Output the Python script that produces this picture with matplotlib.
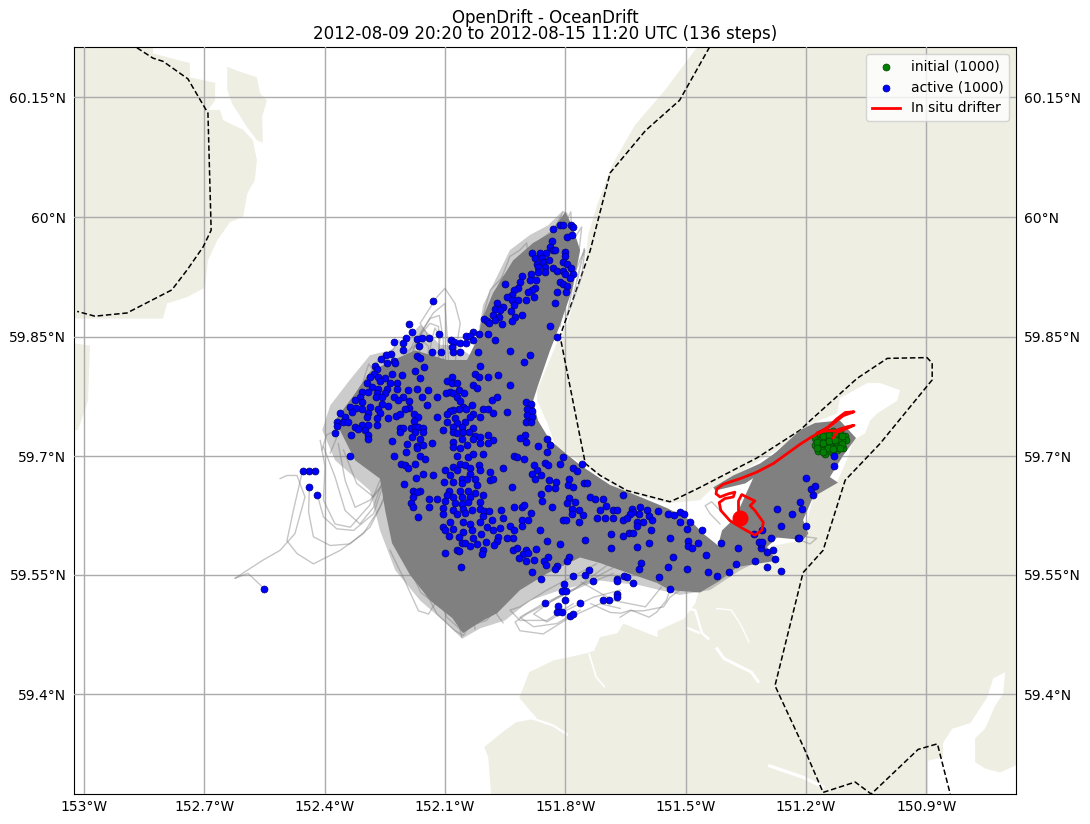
import numpy as np
import matplotlib
matplotlib.use("Agg")
import matplotlib.pyplot as plt

TITLE = "OpenDrift - OceanDrift\n2012-08-09 20:20 to 2012-08-15 11:20 UTC (136 steps)"
LON_TICKS = [-153.0, -152.7, -152.4, -152.1, -151.8, -151.5, -151.2, -150.9]
LON_LABELS = ["153°W", "152.7°W", "152.4°W", "152.1°W", "151.8°W", "151.5°W", "151.2°W", "150.9°W"]
LAT_TICKS = [59.4, 59.55, 59.699, 59.849, 59.999, 60.15]
LAT_LABELS = ["59.4°N", "59.55°N", "59.7°N", "59.85°N", "60°N", "60.15°N"]

sea = [(-152.828,60.213),(-151.471,60.213),(-151.551,60.159),(-151.626,60.115),(-151.683,60.065),(-151.721,60.014),
(-151.743,59.977),(-151.750,59.939),(-151.795,59.866),(-151.818,59.845),(-151.870,59.782),(-151.870,59.769),(-151.845,59.741),
(-151.825,59.713),(-151.746,59.685),(-151.663,59.656),(-151.546,59.640),(-151.464,59.644),(-151.431,59.660),(-151.356,59.681),
(-151.272,59.707),(-151.182,59.741),(-151.122,59.753),(-151.115,59.772),(-151.047,59.791),(-151.015,59.791),(-150.965,59.782),
(-150.972,59.769),(-151.022,59.753),(-151.040,59.744),(-151.052,59.728),(-151.082,59.719),(-151.095,59.698),(-151.120,59.669),(-151.182,59.648),
(-151.207,59.594),(-151.297,59.585),(-151.272,59.568),(-151.371,59.560),(-151.414,59.543),(-151.464,59.535),(-151.476,59.514),
(-151.504,59.495),(-151.570,59.480),(-151.570,59.472),(-151.655,59.489),(-151.670,59.477),(-151.713,59.472),(-151.728,59.455),(-151.745,59.452),
(-151.798,59.446),(-151.828,59.443),(-151.890,59.428),(-151.905,59.408),(-151.915,59.396),(-151.888,59.380),(-151.870,59.370),(-151.923,59.365),(-151.958,59.352),(-152.002,59.334),(-151.992,59.321),(-151.985,59.275),
(-153.025,59.275),(-153.025,59.732),(-153.015,59.732),(-152.990,59.769),(-152.985,59.838),(-153.025,59.841),(-153.025,59.872),
(-152.960,59.872),(-152.880,59.872),(-152.803,59.872),(-152.793,59.891),(-152.743,59.899),(-152.698,59.911),(-152.691,59.945),
(-152.668,59.970),(-152.636,59.993),(-152.603,60.000),(-152.593,60.029),(-152.574,60.046),(-152.569,60.071),(-152.579,60.096),
(-152.603,60.109),(-152.653,60.121),(-152.661,60.134),(-152.691,60.134),(-152.673,60.146),(-152.673,60.168),(-152.736,60.175),
(-152.736,60.193),(-152.761,60.196),(-152.828,60.205)]
island = [(-152.643,60.188),(-152.606,60.181),(-152.569,60.175),(-152.561,60.155),(-152.544,60.146),(-152.556,60.125),
(-152.554,60.093),(-152.569,60.096),(-152.593,60.112),(-152.631,60.142),(-152.643,60.159)]
water_east = [(-150.895,59.275),(-150.895,59.317),(-150.858,59.321),(-150.858,59.339),(-150.835,59.357),(-150.790,59.364),(-150.765,59.383),
(-150.748,59.396),(-150.733,59.420),(-150.703,59.428),(-150.708,59.401),(-150.728,59.386),(-150.753,59.357),(-150.778,59.345),(-150.778,59.315),
(-150.753,59.307),(-150.716,59.302),(-150.676,59.311),(-150.676,59.275)]
channels = [
 ([(-151.424,59.508),(-151.386,59.506),(-151.364,59.489),(-151.341,59.465)], 1.0),
 ([(-151.424,59.459),(-151.404,59.445),(-151.336,59.428),(-151.317,59.415)], 2.2),
 ([(-151.499,59.508),(-151.476,59.506),(-151.459,59.477),(-151.441,59.469)], 1.8),
 ([(-151.498,59.484),(-151.464,59.477)], 1.8),
 ([(-151.294,59.311),(-151.207,59.296),(-151.154,59.283)], 2.4),
 ([(-151.741,59.452),(-151.723,59.422),(-151.701,59.409)], 1.2),
 ([(-151.888,59.371),(-151.830,59.361),(-151.793,59.349)], 1.6),
]

boundary_west = [(-152.868,60.212),(-152.828,60.199),(-152.803,60.195),(-152.741,60.173),(-152.691,60.130),(-152.683,59.983),(-152.703,59.962),
(-152.743,59.933),(-152.781,59.908),(-152.893,59.879),(-152.973,59.875),(-153.017,59.881)]
boundary_east = [(-151.440,60.213),(-151.515,60.146),(-151.600,60.108),(-151.688,60.055),(-151.738,59.957),(-151.813,59.850),
(-151.750,59.690),(-151.713,59.675),(-151.646,59.656),(-151.539,59.642),(-151.521,59.646),(-151.464,59.660),(-151.322,59.697),(-151.214,59.732),
(-151.189,59.744),(-151.072,59.797),(-150.997,59.822),(-150.898,59.823),(-150.885,59.816),(-150.885,59.795),(-151.015,59.715),(-151.102,59.669),
(-151.157,59.581),(-151.207,59.553),(-151.277,59.411),(-151.205,59.333),(-151.157,59.277),(-151.077,59.290),(-151.037,59.275),
(-150.920,59.331),(-150.872,59.338),(-150.840,59.275)]

plume = [(-151.800,60.006),(-151.783,59.989),(-151.763,59.958),(-151.783,59.908),(-151.813,59.864),(-151.838,59.832),(-151.868,59.788),
(-151.880,59.769),(-151.868,59.744),(-151.838,59.719),(-151.763,59.688),(-151.688,59.663),(-151.613,59.648),(-151.546,59.634),
(-151.489,59.619),(-151.456,59.602),(-151.419,59.587),(-151.409,59.606),(-151.376,59.622),(-151.351,59.650),(-151.322,59.682),
(-151.264,59.709),(-151.214,59.732),(-151.177,59.741),(-151.115,59.744),(-151.075,59.722),(-151.107,59.700),(-151.140,59.673),
(-151.120,59.666),(-151.182,59.648),(-151.207,59.619),(-151.194,59.602),(-151.207,59.594),(-151.272,59.597),(-151.297,59.585),
(-151.272,59.568),(-151.371,59.560),(-151.414,59.543),(-151.464,59.528),(-151.539,59.531),(-151.571,59.540),(-151.646,59.553),
(-151.713,59.565),(-151.763,59.572),(-151.845,59.552),(-151.913,59.531),(-151.970,59.502),(-152.012,59.491),(-152.055,59.477),
(-152.082,59.496),(-152.137,59.518),(-152.187,59.550),(-152.232,59.590),(-152.249,59.631),(-152.262,59.671),(-152.324,59.694),
(-152.349,59.719),(-152.374,59.744),(-152.324,59.778),(-152.287,59.805),(-152.229,59.820),(-152.174,59.832),(-152.095,59.820),
(-152.045,59.820),(-152.020,59.845),(-152.005,59.874),(-151.980,59.904),(-151.930,59.945),(-151.880,59.967),(-151.838,59.979)]
plume_north_strip = [(-151.431,59.660),(-151.381,59.675),(-151.314,59.690),(-151.257,59.710),(-151.182,59.738),(-151.289,59.694),
(-151.327,59.673),(-151.351,59.665),(-151.426,59.656)]
plume_fringe = [(-151.805,60.008),(-151.843,59.989),(-151.888,59.977),(-151.938,59.958),(-151.975,59.920),(-152.005,59.889),(-152.017,59.851),
(-152.037,59.826),(-152.075,59.839),(-152.112,59.839),(-152.162,59.864),(-152.199,59.845),(-152.237,59.832),(-152.287,59.826),(-152.337,59.795),
(-152.386,59.763),(-152.406,59.732),(-152.374,59.694),(-152.287,59.656),(-152.262,59.606),(-152.224,59.556),(-152.162,59.518),(-152.100,59.491),
(-152.057,59.470),(-152.012,59.483),(-151.950,59.493),(-151.888,59.518),(-151.813,59.531),(-151.713,59.543),(-151.613,59.537),(-151.514,59.525),
(-151.439,59.531),(-151.364,59.556),(-151.314,59.568),(-151.464,59.590),(-151.700,59.600),(-151.900,59.750),(-151.860,59.880)]

trajectories = [
 [(-152.551,59.533),(-152.591,59.552),(-152.623,59.546)],
 [(-152.623,59.546),(-152.556,59.568),(-152.511,59.581),(-152.474,59.602),(-152.449,59.648),(-152.469,59.675),(-152.494,59.675),(-152.511,59.671)],
 [(-152.455,59.681),(-152.478,59.631),(-152.494,59.593),(-152.469,59.577),(-152.428,59.564),(-152.361,59.581),(-152.303,59.602),(-152.262,59.635),(-152.237,59.669)],
 [(-152.438,59.661),(-152.440,59.629),(-152.428,59.598),(-152.386,59.587),(-152.337,59.589),(-152.287,59.610),(-152.245,59.652)],
 [(-152.418,59.650),(-152.403,59.623),(-152.370,59.608),(-152.328,59.606),(-152.278,59.627),(-152.253,59.665)],
 [(-152.411,59.719),(-152.399,59.686),(-152.403,59.644),(-152.374,59.614),(-152.336,59.610),(-152.287,59.638),(-152.262,59.669)],
 [(-152.403,59.711),(-152.374,59.673),(-152.349,59.631),(-152.312,59.614),(-152.278,59.635),(-152.253,59.673)],
 [(-152.366,59.715),(-152.349,59.669),(-152.324,59.635),(-152.287,59.644),(-152.245,59.671)],
 [(-152.353,59.707),(-152.320,59.665),(-152.278,59.648),(-152.241,59.673)],
 [(-152.179,59.811),(-152.145,59.853),(-152.162,59.866),(-152.120,59.899),(-152.100,59.910),(-152.075,59.891),(-152.062,59.866),(-152.071,59.837),(-152.075,59.811)],
 [(-152.195,59.811),(-152.162,59.853),(-152.129,59.879),(-152.100,59.891),(-152.095,59.853),(-152.091,59.820)],
 [(-152.204,59.803),(-152.170,59.845),(-152.137,59.872),(-152.114,59.876),(-152.104,59.845),(-152.104,59.811)],
 [(-152.212,59.803),(-152.179,59.841),(-152.137,59.866),(-152.116,59.862),(-152.114,59.811)],
 [(-152.145,59.811),(-152.133,59.845),(-152.125,59.860),(-152.112,59.849),(-152.120,59.803)],
 [(-152.220,59.799),(-152.191,59.832),(-152.158,59.845),(-152.141,59.837),(-152.145,59.803)],
 [(-152.407,59.707),(-152.395,59.726),(-152.378,59.730),(-152.328,59.765),(-152.303,59.786),(-152.274,59.816)],
 [(-152.345,59.719),(-152.316,59.774),(-152.262,59.824),(-152.224,59.811),(-152.237,59.770)],
 [(-152.386,59.703),(-152.345,59.753),(-152.312,59.786),(-152.291,59.799),(-152.270,59.770)],
 [(-151.929,59.895),(-151.863,59.971),(-151.830,59.983),(-151.805,60.006),(-151.796,60.004),(-151.788,59.979),(-151.796,59.916),(-151.813,59.862)],
 [(-151.879,59.895),(-151.846,59.975),(-151.796,59.996),(-151.786,60.006),(-151.784,59.975),(-151.805,59.895)],
 [(-151.846,59.862),(-151.780,59.971),(-151.759,59.987),(-151.767,59.950),(-151.796,59.874)],
 [(-151.821,59.870),(-151.763,59.946),(-151.751,59.958),(-151.759,59.925),(-151.788,59.883)],
 [(-151.996,59.874),(-151.938,59.950),(-151.913,59.958),(-151.896,59.967),(-151.888,59.899)],
 [(-152.012,59.862),(-151.987,59.908),(-151.954,59.925),(-151.929,59.929),(-151.913,59.895)],
 [(-151.680,59.568),(-151.780,59.531),(-151.896,59.501),(-151.925,59.491),(-151.913,59.480),(-151.855,59.476),(-151.788,59.497),(-151.713,59.514),(-151.663,59.508)],
 [(-151.722,59.564),(-151.846,59.531),(-151.913,59.510),(-151.938,59.506),(-151.913,59.493),(-151.846,59.493),(-151.780,59.514)],
 [(-151.680,59.552),(-151.763,59.535),(-151.855,59.514),(-151.913,59.497),(-151.879,59.485),(-151.821,59.489),(-151.763,59.506)],
 [(-151.663,59.564),(-151.738,59.543),(-151.821,59.522),(-151.879,59.501),(-151.846,59.491),(-151.796,59.506),(-151.730,59.522),(-151.663,59.531)],
 [(-151.736,59.514),(-151.688,59.503),(-151.661,59.502),(-151.636,59.506),(-151.591,59.497),(-151.573,59.503),(-151.548,59.518),(-151.539,59.531)],
 [(-151.760,59.541),(-151.680,59.518),(-151.600,59.510),(-151.560,59.535)],
 [(-152.237,59.581),(-152.204,59.547),(-152.166,59.505),(-152.141,59.501),(-152.120,59.518),(-152.104,59.552)],
 [(-152.179,59.560),(-152.120,59.501),(-152.075,59.480),(-152.054,59.474),(-152.021,59.501),(-151.979,59.531)],
 [(-152.145,59.556),(-152.095,59.497),(-152.058,59.480),(-152.046,59.485),(-151.996,59.493),(-151.946,59.522)],
 [(-151.414,59.614),(-151.439,59.627),(-151.451,59.637),(-151.435,59.642),(-151.414,59.631)],
 [(-151.214,59.602),(-151.198,59.598),(-151.173,59.596),(-151.190,59.589),(-151.210,59.593)],
 [(-151.514,59.531),(-151.539,59.522),(-151.555,59.510),(-151.605,59.505),(-151.638,59.505),(-151.663,59.497)],
 [(-152.137,59.581),(-152.117,59.525),(-152.100,59.504)],
 [(-152.095,59.581),(-152.075,59.510),(-152.058,59.472)],
 [(-152.045,59.570),(-152.030,59.500),(-152.025,59.482)],
 [(-151.990,59.560),(-151.970,59.500),(-151.955,59.490)],
 [(-152.210,59.640),(-152.200,59.570),(-152.160,59.528),(-152.140,59.520)],
 [(-152.330,59.745),(-152.300,59.800),(-152.290,59.815),(-152.270,59.800)],
 [(-152.260,59.790),(-152.235,59.828),(-152.215,59.845),(-152.200,59.830)],
 [(-151.990,59.840),(-151.975,59.880),(-151.955,59.905),(-151.945,59.890)],
 [(-151.960,59.880),(-151.935,59.930),(-151.915,59.945),(-151.905,59.900)],
 [(-151.780,59.900),(-151.760,59.945),(-151.752,59.960),(-151.770,59.920)],
]

initial = [(-151.177,59.722),(-151.165,59.727),(-151.148,59.729),(-151.132,59.731),(-151.115,59.731),(-151.103,59.725),(-151.100,59.719),
(-151.107,59.710),(-151.123,59.707),(-151.136,59.704),(-151.152,59.702),(-151.169,59.706),(-151.177,59.713),(-151.165,59.719),(-151.150,59.722),
(-151.136,59.724),(-151.122,59.724),(-151.111,59.719),(-151.123,59.715),(-151.138,59.713),(-151.152,59.710),(-151.165,59.711),(-151.150,59.716),
(-151.136,59.718),(-151.119,59.719),(-151.127,59.710),(-151.144,59.707),(-151.161,59.707),(-151.173,59.717),(-151.111,59.714),
(-151.158,59.724),(-151.143,59.726),(-151.128,59.727),(-151.157,59.716),(-151.143,59.718),(-151.128,59.720),(-151.145,59.710),(-151.132,59.708),
(-151.158,59.704),(-151.116,59.710),(-151.171,59.710),(-151.110,59.724)]

active_north = [(-151.830,59.985),(-151.813,59.990),(-151.806,59.990),(-151.786,59.989),(-151.781,59.987),(-151.796,59.975),(-151.784,59.977),
(-151.834,59.969),(-151.838,59.962),(-151.830,59.958),(-151.825,59.958),(-151.884,59.954),(-151.863,59.954),(-151.848,59.954),(-151.800,59.956),
(-151.800,59.951),(-151.875,59.948),(-151.859,59.948),(-151.871,59.941),(-151.855,59.943),(-151.840,59.945),(-151.805,59.943),(-151.796,59.941),
(-151.786,59.936),(-151.867,59.937),(-151.850,59.937),(-151.831,59.935),(-151.821,59.932),(-151.805,59.932),(-151.800,59.928),(-151.781,59.928),
(-151.867,59.931),(-151.850,59.931),(-151.788,59.923),(-151.813,59.918),(-151.805,59.916),(-151.796,59.913),(-151.886,59.928),(-151.909,59.925),
(-151.888,59.920),(-151.873,59.920),(-151.875,59.911),(-151.884,59.908),(-151.913,59.918),(-151.919,59.911),(-151.927,59.908),(-151.949,59.915),
(-151.932,59.902),(-151.894,59.905),(-151.879,59.899),(-151.820,59.905),(-151.799,59.905),(-151.899,59.895),(-151.946,59.899),(-151.933,59.895),
(-151.919,59.895),(-151.971,59.892),(-151.825,59.892),(-151.929,59.889),(-151.956,59.886),(-151.975,59.884),(-151.963,59.883),(-151.935,59.881),
(-151.979,59.876),(-151.964,59.874),(-151.925,59.874),(-151.907,59.876),(-152.002,59.872),(-151.996,59.869),(-151.975,59.870),(-151.989,59.867),
(-151.933,59.869),(-151.958,59.865),(-151.837,59.863),(-152.029,59.855),(-152.015,59.853),(-151.992,59.853),(-152.048,59.850),(-152.037,59.850),
(-152.029,59.845),(-151.821,59.849),(-151.974,59.845),(-152.086,59.845),(-152.077,59.843),(-152.062,59.841),(-152.047,59.841),(-152.083,59.836),
(-152.081,59.830),(-152.062,59.830),(-152.017,59.830),(-151.939,59.831),(-151.889,59.826),(-151.904,59.817),(-152.012,59.813),(-152.026,59.802),
(-152.015,59.798),(-151.993,59.799),(-151.967,59.801),(-151.939,59.789),(-152.029,59.788),(-152.019,59.785)]

active_northwest = [(-152.129,59.894),(-152.189,59.865),(-152.181,59.855),(-152.198,59.848),(-152.170,59.846),(-152.158,59.848),(-152.139,59.848),
(-152.114,59.852),(-152.228,59.842),(-152.204,59.841),(-152.164,59.838),(-152.205,59.832),(-152.132,59.830),(-152.111,59.830),(-152.235,59.828),
(-152.248,59.826),(-152.260,59.821),(-152.169,59.825),(-152.162,59.822),(-152.228,59.819),(-152.224,59.816),(-152.245,59.816),(-152.151,59.811),
(-152.274,59.813),(-152.270,59.809),(-152.174,59.806),(-152.208,59.801),(-152.231,59.802),(-152.161,59.797),(-152.278,59.803),(-152.266,59.799),
(-152.249,59.797),(-152.287,59.799),(-152.262,59.793),(-152.237,59.791),(-152.220,59.791),(-152.295,59.791),(-152.282,59.786),(-152.266,59.784),
(-152.245,59.784),(-152.170,59.784),(-152.143,59.782),(-152.193,59.782),(-152.220,59.783),(-152.307,59.780),(-152.291,59.780),(-152.270,59.779),
(-152.249,59.778),(-152.204,59.774),(-152.158,59.774),(-152.121,59.773),(-152.312,59.774),(-152.272,59.773),(-152.258,59.774),(-152.228,59.773),
(-152.218,59.770),(-152.189,59.769),(-152.324,59.770),(-152.307,59.767),(-152.258,59.765),(-152.241,59.762),(-152.145,59.763),(-152.336,59.761),
(-152.322,59.760),(-152.287,59.761),(-152.266,59.759),(-152.189,59.760),(-152.199,59.758),(-152.361,59.753),(-152.349,59.749),(-152.332,59.755),
(-152.306,59.759),(-152.291,59.753),(-152.262,59.753),(-152.223,59.750),(-152.212,59.752),(-152.176,59.752),(-152.166,59.749),(-152.119,59.748),
(-152.368,59.742),(-152.353,59.742),(-152.341,59.742),(-152.295,59.749),(-152.270,59.747),(-152.243,59.747),(-152.177,59.744),(-152.370,59.737),
(-152.324,59.736),(-152.307,59.738),(-152.291,59.738),(-152.270,59.738),(-152.213,59.734),(-152.204,59.735),(-152.185,59.735),(-152.174,59.736),
(-152.166,59.736),(-152.318,59.733),(-152.299,59.732),(-152.154,59.735),(-152.213,59.730),(-152.374,59.728),(-152.334,59.726),(-152.293,59.726),
(-152.174,59.729),(-152.154,59.729),(-152.104,59.732),(-152.291,59.721),(-152.183,59.723),(-152.162,59.721),(-152.233,59.718),(-152.133,59.716),
(-152.194,59.714),(-152.170,59.712),(-152.154,59.713),(-152.169,59.709)]

active_central_north = [(-152.094,59.794),(-152.083,59.798),(-152.083,59.791),(-152.069,59.791),(-152.064,59.782),(-152.052,59.778),(-152.098,59.778),
(-152.087,59.780),(-152.081,59.778),(-152.071,59.773),(-152.062,59.768),(-152.032,59.764),(-151.982,59.770),(-151.971,59.773),(-152.056,59.761),
(-152.047,59.758),(-152.079,59.757),(-152.087,59.756),(-152.066,59.758),(-152.095,59.752),(-152.006,59.758),(-151.992,59.758),(-151.981,59.754),
(-151.946,59.755),(-151.899,59.767),(-151.886,59.765),(-151.896,59.758),(-151.884,59.756),(-151.896,59.751),(-151.884,59.749),(-151.898,59.742),
(-151.886,59.742),(-152.029,59.752),(-152.037,59.749),(-152.012,59.749),(-152.075,59.747),(-152.094,59.742),(-152.071,59.741),(-152.050,59.742),
(-152.079,59.736),(-152.058,59.736),(-152.029,59.735),(-152.081,59.730),(-152.071,59.728),(-152.054,59.730),(-152.041,59.730),(-152.079,59.717),
(-152.058,59.721),(-152.025,59.724),(-152.012,59.723),(-151.992,59.726),(-151.981,59.719),(-151.992,59.716),(-152.012,59.716),(-152.031,59.721),
(-151.900,59.726),(-151.913,59.722),(-151.899,59.717),(-151.845,59.721),(-151.869,59.712),(-151.838,59.713),(-152.079,59.711),(-152.062,59.710),(-152.046,59.713)]

active_far_west = [(-152.455,59.681),(-152.440,59.681),(-152.425,59.681),(-152.438,59.661),(-152.418,59.650),(-152.338,59.700),(-152.551,59.533)]

active_west = [(-152.228,59.699),(-152.197,59.704),(-152.162,59.699),(-152.149,59.696),(-152.210,59.689),(-152.199,59.688),(-152.191,59.684),
(-152.174,59.689),(-152.155,59.677),(-152.129,59.675),(-152.172,59.672),(-152.201,59.664),(-152.180,59.656),(-152.162,59.655),(-152.169,59.654),
(-152.180,59.648),(-152.185,59.641),(-152.180,59.636),(-152.139,59.645),(-152.120,59.645),(-152.141,59.636),(-152.166,59.623)]

active_central = [(-152.071,59.700),(-152.042,59.698),(-152.029,59.702),(-152.004,59.702),(-152.062,59.690),(-152.079,59.686),(-152.050,59.688),
(-152.014,59.688),(-152.037,59.684),(-152.100,59.682),(-152.071,59.682),(-152.037,59.677),(-152.012,59.682),(-151.987,59.679),(-152.087,59.675),
(-152.058,59.671),(-152.046,59.670),(-152.025,59.671),(-151.987,59.669),(-151.981,59.670),(-152.102,59.667),(-152.079,59.667),(-152.058,59.665),
(-152.021,59.663),(-152.091,59.656),(-152.062,59.656),(-152.042,59.656),(-152.025,59.653),(-152.095,59.650),(-152.079,59.648),(-152.058,59.648),
(-152.037,59.648),(-152.004,59.651),(-152.100,59.643),(-152.075,59.640),(-152.058,59.639),(-152.042,59.642),(-152.012,59.642),(-152.104,59.634),
(-152.079,59.632),(-152.054,59.633),(-152.033,59.631),(-152.012,59.633),(-152.002,59.630),(-151.989,59.630),(-152.106,59.626),(-152.071,59.626),
(-152.050,59.628),(-152.004,59.624),(-151.983,59.619),(-152.054,59.617),(-152.012,59.617),(-152.037,59.614),(-152.087,59.616),(-152.106,59.610),
(-152.079,59.608),(-152.100,59.606),(-152.033,59.606),(-151.996,59.610),(-151.979,59.607),(-151.963,59.609),(-151.938,59.611),(-151.929,59.606),
(-152.091,59.599),(-152.054,59.604),(-152.066,59.598),(-152.029,59.597),(-152.010,59.601),(-151.967,59.598),(-151.946,59.597),(-151.931,59.596),
(-151.971,59.593),(-152.058,59.590),(-152.050,59.590),(-152.037,59.587),(-152.021,59.589),(-151.997,59.591),(-151.977,59.588),(-152.071,59.582),
(-152.064,59.580),(-152.004,59.582),(-152.007,59.576),(-152.099,59.577),(-152.061,59.560)]

active_south = [(-151.954,59.684),(-151.929,59.700),(-151.921,59.698),(-151.902,59.696),(-151.846,59.705),(-151.806,59.698),(-151.850,59.691),
(-151.842,59.688),(-151.813,59.689),(-151.879,59.688),(-151.871,59.682),(-151.884,59.677),(-151.861,59.676),(-151.780,59.684),(-151.770,59.680),
(-151.759,59.689),(-151.875,59.670),(-151.840,59.669),(-151.823,59.667),(-151.790,59.670),(-151.932,59.661),(-151.825,59.659),(-151.842,59.659),
(-151.792,59.663),(-151.780,59.661),(-151.753,59.665),(-151.745,59.665),(-151.861,59.652),(-151.859,59.643),(-151.790,59.647),(-151.776,59.642),
(-151.796,59.640),(-151.738,59.648),(-151.726,59.645),(-151.929,59.636),(-151.909,59.636),(-151.904,59.638),(-151.832,59.635),(-151.784,59.633),
(-151.755,59.625),(-151.961,59.632),(-151.886,59.628),(-151.784,59.626),(-151.765,59.631),(-151.954,59.622),(-151.909,59.619),(-151.894,59.619),
(-151.805,59.619),(-151.798,59.619),(-151.722,59.621),(-151.765,59.616),(-151.909,59.611),(-151.864,59.606),(-151.845,59.593),(-151.750,59.594),
(-151.812,59.589),(-151.931,59.582),(-151.921,59.584),(-151.898,59.582),(-151.874,59.583),(-151.906,59.576),(-151.894,59.578),(-151.916,59.571),
(-151.899,59.567),(-151.877,59.569),(-151.791,59.573),(-151.795,59.568),(-151.844,59.572),(-151.853,59.568),(-151.848,59.562),(-151.821,59.561),
(-151.825,59.557),(-151.884,59.554),(-151.861,59.545),(-151.780,59.549),(-151.752,59.550),(-151.740,59.556),(-151.732,59.543),(-151.804,59.539),
(-151.809,59.530),(-151.799,59.530),(-151.850,59.515),(-151.800,59.518),(-151.762,59.515),(-151.817,59.511),(-151.820,59.503),(-151.809,59.504),
(-151.788,59.499),(-151.781,59.501)]

active_east = [(-151.655,59.650),(-151.706,59.645),(-151.698,59.637),(-151.713,59.632),(-151.681,59.631),(-151.670,59.631),(-151.634,59.633),
(-151.613,59.635),(-151.630,59.629),(-151.597,59.631),(-151.568,59.630),(-151.543,59.627),(-151.530,59.625),(-151.515,59.629),(-151.505,59.627),
(-151.638,59.627),(-151.617,59.627),(-151.592,59.624),(-151.584,59.619),(-151.700,59.622),(-151.680,59.622),(-151.655,59.619),(-151.647,59.622),
(-151.605,59.616),(-151.622,59.616),(-151.622,59.611),(-151.514,59.617),(-151.490,59.617),(-151.586,59.607),(-151.497,59.608),(-151.460,59.606),
(-151.642,59.603),(-151.630,59.603),(-151.656,59.599),(-151.685,59.602),(-151.538,59.597),(-151.495,59.593),(-151.470,59.590),(-151.590,59.590),
(-151.495,59.587),(-151.484,59.584),(-151.622,59.585),(-151.686,59.584),(-151.532,59.572),(-151.449,59.575),(-151.411,59.590),(-151.368,59.584),
(-151.610,59.565),(-151.615,59.558),(-151.543,59.560),(-151.497,59.558),(-151.445,59.554),(-151.422,59.549),(-151.391,59.554),(-151.373,59.564),
(-151.565,59.547),(-151.653,59.549),(-151.647,59.547),(-151.671,59.545),(-151.671,59.542),(-151.632,59.540),(-151.540,59.532),(-151.671,59.526),
(-151.670,59.522),(-151.690,59.519),(-151.705,59.518),(-151.326,59.567),(-151.296,59.560),(-151.263,59.555),(-151.278,59.570),(-151.281,59.582),
(-151.296,59.579),(-151.312,59.584),(-151.311,59.589),(-151.316,59.592),(-151.309,59.591),(-151.286,59.596),(-151.329,59.601),(-151.309,59.607),
(-151.263,59.612),(-151.234,59.626),(-151.273,59.633),(-151.214,59.642),(-151.209,59.633),(-151.181,59.651),(-151.186,59.658),(-151.176,59.662),
(-151.199,59.672),(-151.129,59.687),(-151.129,59.699),(-151.199,59.612),(-151.220,59.596),(-151.216,59.596)]

drifter = [(-151.132,59.722),(-151.123,59.729),(-151.098,59.734),(-151.080,59.738),(-151.098,59.736),(-151.127,59.731),(-151.152,59.731),(-151.173,59.728),
(-151.148,59.734),(-151.127,59.742),(-151.107,59.750),(-151.080,59.755),(-151.102,59.754),(-151.123,59.746),(-151.144,59.736),(-151.173,59.727),
(-151.190,59.722),(-151.215,59.714),(-151.248,59.702),(-151.281,59.690),(-151.323,59.679),(-151.364,59.671),(-151.406,59.664),(-151.422,59.658),
(-151.424,59.652),(-151.414,59.648),(-151.393,59.652),(-151.377,59.654),(-151.381,59.648),(-151.402,59.646),(-151.416,59.641),(-151.412,59.631),
(-151.389,59.618),(-151.356,59.608),(-151.327,59.600),(-151.310,59.606),(-151.306,59.616),(-151.327,59.631),(-151.339,59.637),(-151.327,59.643),
(-151.348,59.648),(-151.360,59.651),(-151.368,59.643),(-151.368,59.631),(-151.364,59.621)]

LAND = "#eeeee3"
W, H = 1090, 824
fig = plt.figure(figsize=(W / 100, H / 100), dpi=100)
ax = fig.add_axes([74 / W, (H - 794) / H, (1016 - 74) / W, (794 - 47) / H])
ax.set_xlim(-153.025, -150.676)
ax.set_ylim(59.275, 60.213)
ax.set_facecolor(LAND)


def xy(pairs):
    a = np.array(pairs)
    return a[:, 0], a[:, 1]


ax.fill(*xy(sea), color="white", lw=0, zorder=1)
ax.fill(*xy(island), color=LAND, lw=0, zorder=1.1)
ax.fill(*xy(water_east), color="white", lw=0, zorder=1.1)
for line, width in channels:
    ax.plot(*xy(line), color="white", lw=width, zorder=1.1, solid_capstyle="butt")

ax.set_xticks(LON_TICKS, LON_LABELS)
ax.set_yticks(LAT_TICKS, LAT_LABELS)
ax.tick_params(axis="both", length=0, labelsize=10)
ax.tick_params(axis="y", left=False, right=False, labelleft=True, labelright=True, pad=5.5)
ax.tick_params(axis="x", pad=4)
ax.grid(True, color="#ababab", lw=1)
for g in ax.get_xgridlines() + ax.get_ygridlines():
    g.set_zorder(2)
ax.set_axisbelow(False)

for line in (boundary_west, boundary_east):
    ax.plot(*xy(line), color="black", lw=1.1, ls=(0, (3.6, 1.8)), zorder=3)

ax.fill(*xy(plume_fringe), color="#808080", alpha=0.4, lw=0, zorder=3.5)
ax.fill(*xy(plume), color="#808080", lw=0, zorder=4)
ax.fill(*xy(plume_north_strip), color="#808080", lw=0, zorder=4)
for line in trajectories:
    ax.plot(*xy(line), color="gray", lw=1, alpha=0.45, zorder=4)

ax.scatter(*xy(initial), s=25, c="#008000", edgecolors="#063f06", linewidths=0.5, zorder=5, label="initial (1000)")
active = active_north + active_northwest + active_central_north + active_far_west + active_west + active_central + active_south + active_east
ax.scatter(*xy(active), s=25, c="#0000ff", edgecolors="#00007a", linewidths=0.5, zorder=6, label="active (1000)")
ax.plot(*xy(drifter), color="red", lw=2, zorder=7, label="In situ drifter")
ax.plot(drifter[-1][0], drifter[-1][1], "o", color="red", ms=10.5, zorder=7)

ax.legend(loc="upper right", fontsize=10)
ax.set_title(TITLE, fontsize=12, pad=6, linespacing=0.85)
fig.savefig("out.png", dpi=100)
